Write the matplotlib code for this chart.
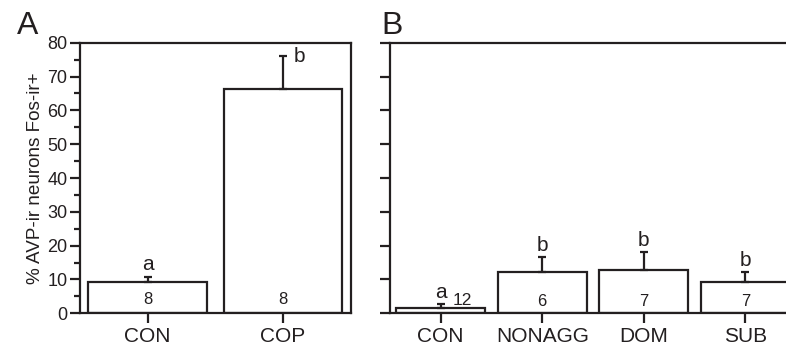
import matplotlib
matplotlib.use("Agg")
import matplotlib.pyplot as plt
from matplotlib.ticker import MultipleLocator

plt.rcParams['font.family'] = ['Liberation Sans', 'DejaVu Sans']

# Panel A data
a_cats = ["CON", "COP"]
a_means = [9.3, 66.3]
a_err = [1.5, 9.9]
a_letters = ["a", "b"]
a_n = ["8", "8"]

# Panel B data
b_cats = ["CON", "NONAGG", "DOM", "SUB"]
b_means = [1.5, 12.1, 12.8, 9.3]
b_err = [1.2, 4.5, 5.4, 2.8]
b_letters = ["a", "b", "b", "b"]
b_n = ["12", "6", "7", "7"]

y_ticks = [0, 10, 20, 30, 40, 50, 60, 70, 80]

fig = plt.figure(figsize=(7.86, 3.48), dpi=100)
axA = fig.add_axes([80/786, 0.0997, 270.7/786, 0.7776])
axB = fig.add_axes([390/786, 0.0997, 406/786, 0.7776])

lw = 1.6
col = "#231f20"

def style(ax):
    for s in ax.spines.values():
        s.set_linewidth(lw)
        s.set_color(col)
    ax.tick_params(axis='both', which='major', direction='out', length=7, width=lw, color=col)
    ax.tick_params(axis='y', which='minor', direction='out', length=4, width=lw, color=col)
    ax.set_ylim(0, 80)

# Panel A
xa = list(range(len(a_cats)))
axA.bar(xa, a_means, width=0.875, color="white", edgecolor=col, linewidth=lw, zorder=2)
axA.errorbar(xa, a_means, yerr=[[0]*len(a_err), a_err], fmt='none', ecolor=col,
             elinewidth=lw, capsize=3, capthick=lw, zorder=3)
axA.set_xlim(-0.5, 1.5)
style(axA)
axA.set_yticks(y_ticks)
axA.yaxis.set_minor_locator(MultipleLocator(5))
axA.set_xticks(xa)
axA.set_xticklabels(a_cats, fontsize=15, color=col)
axA.tick_params(axis='y', labelsize=13, pad=2, labelcolor=col)
axA.tick_params(axis='x', pad=3)
axA.set_ylabel("% AVP-ir neurons Fos-ir+", fontsize=13.6, labelpad=2, color=col)
for i in xa:
    axA.text(i, 4, a_n[i], ha='center', va='center', fontsize=12, color=col, zorder=4)
# letters
axA.text(0, a_means[0] + a_err[0] + 0.8, a_letters[0], ha='center', va='bottom', fontsize=15, color=col)
axA.text(1 + 0.08, a_means[1] + a_err[1] - 3.0, a_letters[1], ha='left', va='bottom', fontsize=15, color=col)

# Panel B
xb = list(range(len(b_cats)))
axB.bar(xb, b_means, width=0.88, color="white", edgecolor=col, linewidth=lw, zorder=2)
axB.errorbar(xb, b_means, yerr=[[0]*len(b_err), b_err], fmt='none', ecolor=col,
             elinewidth=lw, capsize=3, capthick=lw, zorder=3)
axB.set_xlim(-0.5, 3.5)
style(axB)
axB.spines['right'].set_visible(False)
axB.set_yticks(y_ticks)
axB.set_yticklabels([])
axB.set_xticks(xb)
axB.set_xticklabels(b_cats, fontsize=15, color=col)
axB.tick_params(axis='x', pad=3)
for i in xb:
    top = b_means[i] + b_err[i]
    axB.text(i, top + 0.6, b_letters[i], ha='center', va='bottom', fontsize=15, color=col)
    if i == 0:
        axB.text(i + 0.12, 3.9, b_n[i], ha='left', va='center', fontsize=12.5, color=col)
    else:
        axB.text(i, 3.5, b_n[i], ha='center', va='center', fontsize=12, color=col)

fig.text(17/786, 1 - 26/348, "A", fontsize=23, ha='left', va='center', color=col)
fig.text(381/786, 1 - 26/348, "B", fontsize=23, ha='left', va='center', color=col)

fig.savefig("out.png", dpi=100)
